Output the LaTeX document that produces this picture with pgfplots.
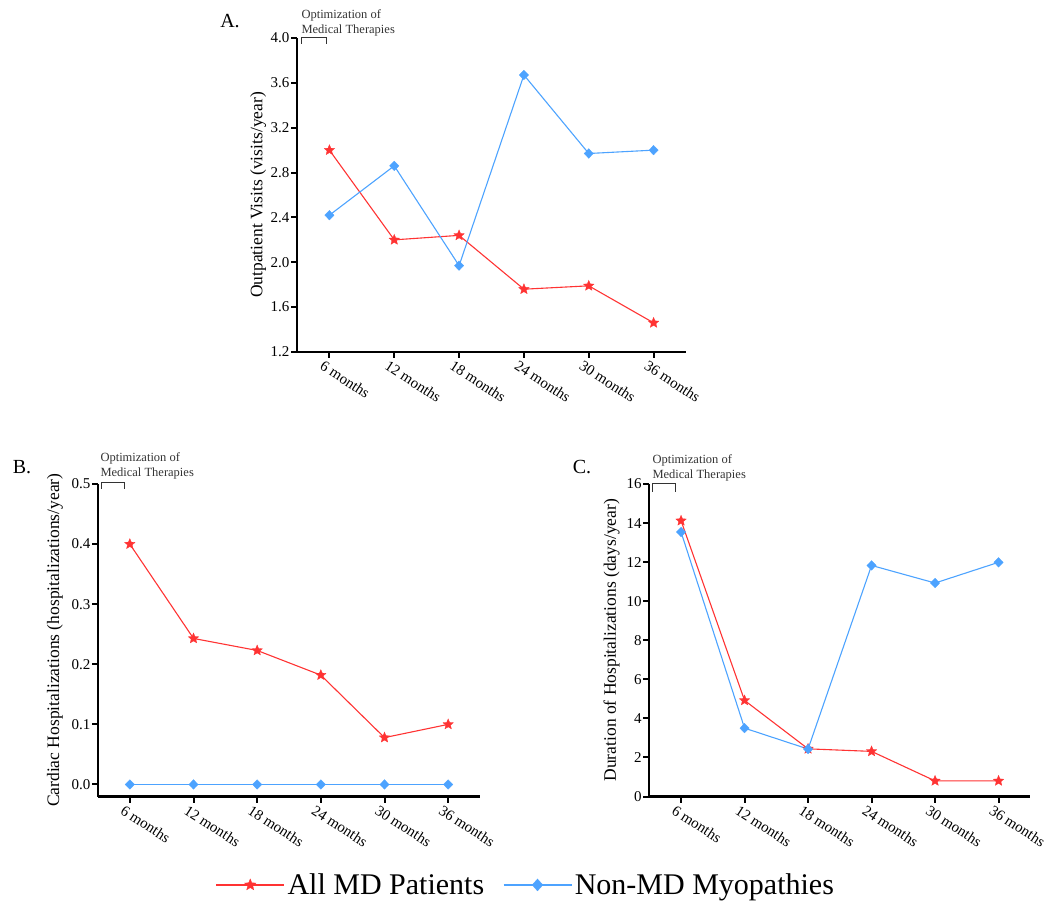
\documentclass[border=0pt]{standalone}
\usepackage{fontspec}
\setmainfont{Liberation Serif}
\usepackage{pgfplots}
\pgfplotsset{compat=1.18}
\usetikzlibrary{plotmarks}

\definecolor{mdred}{RGB}{255,51,51}
\definecolor{nmblue}{RGB}{77,163,255}

% filled five-pointed star
\pgfdeclareplotmark{fstar}{%
  \pgfpathmoveto{\pgfpointpolar{90}{\pgfplotmarksize}}%
  \pgfpathlineto{\pgfpointpolar{126}{0.45\pgfplotmarksize}}%
  \pgfpathlineto{\pgfpointpolar{162}{\pgfplotmarksize}}%
  \pgfpathlineto{\pgfpointpolar{198}{0.45\pgfplotmarksize}}%
  \pgfpathlineto{\pgfpointpolar{234}{\pgfplotmarksize}}%
  \pgfpathlineto{\pgfpointpolar{270}{0.45\pgfplotmarksize}}%
  \pgfpathlineto{\pgfpointpolar{306}{\pgfplotmarksize}}%
  \pgfpathlineto{\pgfpointpolar{342}{0.45\pgfplotmarksize}}%
  \pgfpathlineto{\pgfpointpolar{18}{\pgfplotmarksize}}%
  \pgfpathlineto{\pgfpointpolar{54}{0.45\pgfplotmarksize}}%
  \pgfpathclose\pgfusepathqfillstroke}

\pgfplotsset{
  panel/.style={
    scale only axis, clip=false,
    axis lines=left,
    axis line style={line width=2.2pt, -},
    tick align=outside,
    major tick length=6pt,
    every tick/.style={black, line width=2pt},
    /pgf/number format/assume math mode=true,
    tick label style={font=\fontsize{15}{17}\selectfont},
    yticklabel style={inner sep=1.5pt},
    xmin=-0.5, xmax=5.5,
    xtick={0,1,2,3,4,5},
    xticklabels={6 months,12 months,18 months,24 months,30 months,36 months},
    xticklabel style={rotate=-33, anchor=north west, inner sep=1pt, xshift=-4pt, yshift=-3pt},
  },
  ylab/.style={every axis y label/.style={at={(axis description cs:#1,0.5)},
    rotate=90, anchor=center, font=\fontsize{17.5}{20}\selectfont}},
  mdline/.style={mdred, line width=1.1pt, mark=fstar, mark size=5.5pt,
    mark options={solid, line width=0.3pt}},
  nmline/.style={nmblue, line width=1.1pt, mark=diamond*, mark size=4.8pt,
    mark options={solid, line width=0.3pt, xscale=1.3}},
}

\begin{document}
\begin{tikzpicture}
\useasboundingbox (0pt,0pt) rectangle (1062pt,905pt);

% Panel A
\begin{axis}[panel,
  at={(297pt,553pt)}, anchor=south west,
  width=389pt, height=314pt,
  ymin=1.2, ymax=4.0, ytick={1.2,1.6,2.0,2.4,2.8,3.2,3.6,4.0},
  yticklabel style={/pgf/number format/.cd, fixed, fixed zerofill, precision=1},
  ylabel={Outpatient Visits (visits/year)}, ylab=-0.1,
]
\addplot[mdline] coordinates {(0,3.00) (1,2.20) (2,2.24) (3,1.76) (4,1.79) (5,1.46)};
\addplot[nmline] coordinates {(0,2.42) (1,2.86) (2,1.97) (3,3.67) (4,2.97) (5,3.00)};
\end{axis}

% Panel B
\begin{axis}[panel,
  at={(98pt,108.5pt)}, anchor=south west,
  width=382pt, height=312.5pt,
  ymin=-0.02, ymax=0.5, ytick={0,0.1,0.2,0.3,0.4,0.5},
  yticklabel style={/pgf/number format/.cd, fixed, fixed zerofill, precision=1},
  ylabel={Cardiac Hospitalizations (hospitalizations/year)}, ylab=-0.113,
  legend style={draw=none, fill=none, at={(axis description cs:1.119,-0.283)}, anchor=center,
    font=\fontsize{30}{34}\selectfont, inner sep=0pt,
    /tikz/every even column/.append style={column sep=16pt}},
  legend columns=2,
  legend image code/.code={\draw[mark repeat=2,mark phase=2] plot coordinates {(0pt,0pt) (34pt,0pt) (68pt,0pt)};},
]
\addplot[mdline, forget plot] coordinates {(0,0.400) (1,0.243) (2,0.223) (3,0.182) (4,0.078) (5,0.100)};
\addplot[nmline, forget plot] coordinates {(0,0) (1,0) (2,0) (3,0) (4,0) (5,0)};
\addlegendimage{mdred, line width=2.6pt, mark=fstar, mark size=6pt, mark options={solid, line width=0.3pt}}
\addlegendentry{All MD Patients}
\addlegendimage{nmblue, line width=2.6pt, mark=diamond*, mark size=6pt, mark options={solid, line width=0.3pt, xscale=1.2}}
\addlegendentry{Non-MD Myopathies}
\end{axis}

% Panel C
\begin{axis}[panel,
  at={(649.3pt,108.5pt)}, anchor=south west,
  width=381pt, height=312.5pt,
  ymin=0, ymax=16, ytick={0,2,4,6,8,10,12,14,16},
  ylabel={Duration of Hospitalizations (days/year)}, ylab=-0.099,
]
\addplot[mdline] coordinates {(0,14.12) (1,4.92) (2,2.44) (3,2.31) (4,0.80) (5,0.80)};
\addplot[nmline] coordinates {(0,13.54) (1,3.50) (2,2.43) (3,11.83) (4,10.93) (5,11.99)};
\end{axis}

% panel letters
\node[font=\fontsize{20}{22}\selectfont] at (230pt,884pt) {A.};
\node[font=\fontsize{20}{22}\selectfont] at (22pt,438pt) {B.};
\node[font=\fontsize{20}{22}\selectfont] at (582pt,438pt) {C.};

% optimization brackets
\begin{scope}[line width=1pt, black!80]
  \node[font=\fontsize{12.5}{15}\selectfont, align=left, anchor=north west, inner sep=0pt] at (301pt,896pt) {Optimization of\\Medical Therapies};
  \draw (301.5pt,861pt) -- (301.5pt,867pt) -- (326pt,867pt) -- (326pt,861pt);
  \node[font=\fontsize{12.5}{15}\selectfont, align=left, anchor=north west, inner sep=0pt] at (100pt,453pt) {Optimization of\\Medical Therapies};
  \draw (101pt,416pt) -- (101pt,422pt) -- (124pt,422pt) -- (124pt,416pt);
  \node[font=\fontsize{12.5}{15}\selectfont, align=left, anchor=north west, inner sep=0pt] at (652pt,451pt) {Optimization of\\Medical Therapies};
  \draw (652.7pt,413pt) -- (652.7pt,421pt) -- (675pt,421pt) -- (675pt,413pt);
\end{scope}
\end{tikzpicture}
\end{document}
